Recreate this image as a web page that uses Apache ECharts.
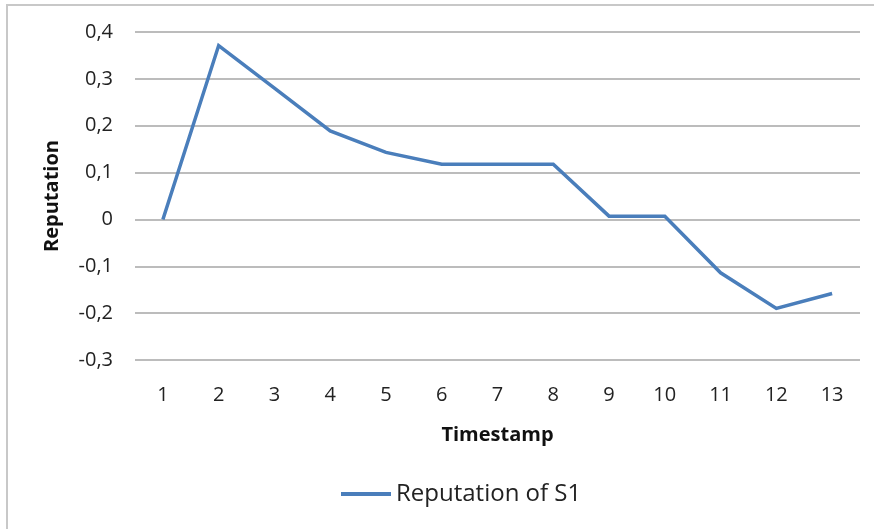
<!DOCTYPE html>
<html>
<head>
<meta charset="utf-8">
<script src="https://cdn.jsdelivr.net/npm/echarts@6/dist/echarts.min.js"></script>
<style>
  html, body { margin: 0; padding: 0; background: #ffffff; }
  #chart { width: 874px; height: 529px; }
</style>
</head>
<body>
<div id="chart"></div>
<script>
// Reputation of server S1 over 13 timestamps
const timestamps = ['1', '2', '3', '4', '5', '6', '7', '8', '9', '10', '11', '12', '13'];
const reputationS1 = [0, 0.371, 0.28, 0.189, 0.143, 0.118, 0.118, 0.118, 0.007, 0.007, -0.114, -0.19, -0.158];
const seriesName = 'Reputation of S1';

const FONT = '"Open Sans", "Noto Sans", sans-serif';
const chart = echarts.init(document.getElementById('chart'), null, { renderer: 'canvas' });

chart.setOption({
  backgroundColor: '#ffffff',
  animation: false,
  graphic: [{
    type: 'rect',
    shape: { x: 7, y: 5, width: 900, height: 560 },
    style: { fill: 'none', stroke: '#c8c8c8', lineWidth: 2 },
    silent: true
  }],
  grid: { left: 135, right: 14, top: 32, bottom: 169 },
  legend: {
    data: [seriesName],
    top: 477,
    left: 336,
    itemWidth: 50,
    itemHeight: 4,
    itemGap: 5,
    icon: 'rect',
    textStyle: { fontFamily: FONT, fontSize: 24, color: '#222222' }
  },
  xAxis: {
    type: 'category',
    data: timestamps,
    boundaryGap: true,
    name: 'Timestamp',
    nameLocation: 'middle',
    nameGap: 65,
    nameTextStyle: { fontFamily: FONT, fontSize: 20, fontWeight: 'bold', color: '#111111' },
    axisLine: { show: false },
    axisTick: { show: false },
    axisLabel: { fontFamily: FONT, fontSize: 20, color: '#222222', margin: 25 }
  },
  yAxis: {
    type: 'value',
    min: -0.3,
    max: 0.4,
    interval: 0.1,
    name: 'Reputation',
    nameLocation: 'middle',
    nameGap: 73,
    nameRotate: 90,
    nameTextStyle: { fontFamily: FONT, fontSize: 20, fontWeight: 'bold', color: '#111111' },
    axisLine: { show: false },
    axisTick: { show: false },
    axisLabel: {
      fontFamily: FONT, fontSize: 20, color: '#222222', margin: 22,
      formatter: function (v) {
        const r = Math.round(v * 10) / 10;
        return r === 0 ? '0' : r.toFixed(1).replace('.', ',');
      }
    },
    splitLine: { lineStyle: { color: '#a6a6a6', width: 1.5 } }
  },
  series: [{
    name: seriesName,
    type: 'line',
    data: reputationS1,
    symbol: 'none',
    lineStyle: { color: '#4a7ebb', width: 3.5, join: 'miter' },
    itemStyle: { color: '#4a7ebb' }
  }]
});
</script>
</body>
</html>
